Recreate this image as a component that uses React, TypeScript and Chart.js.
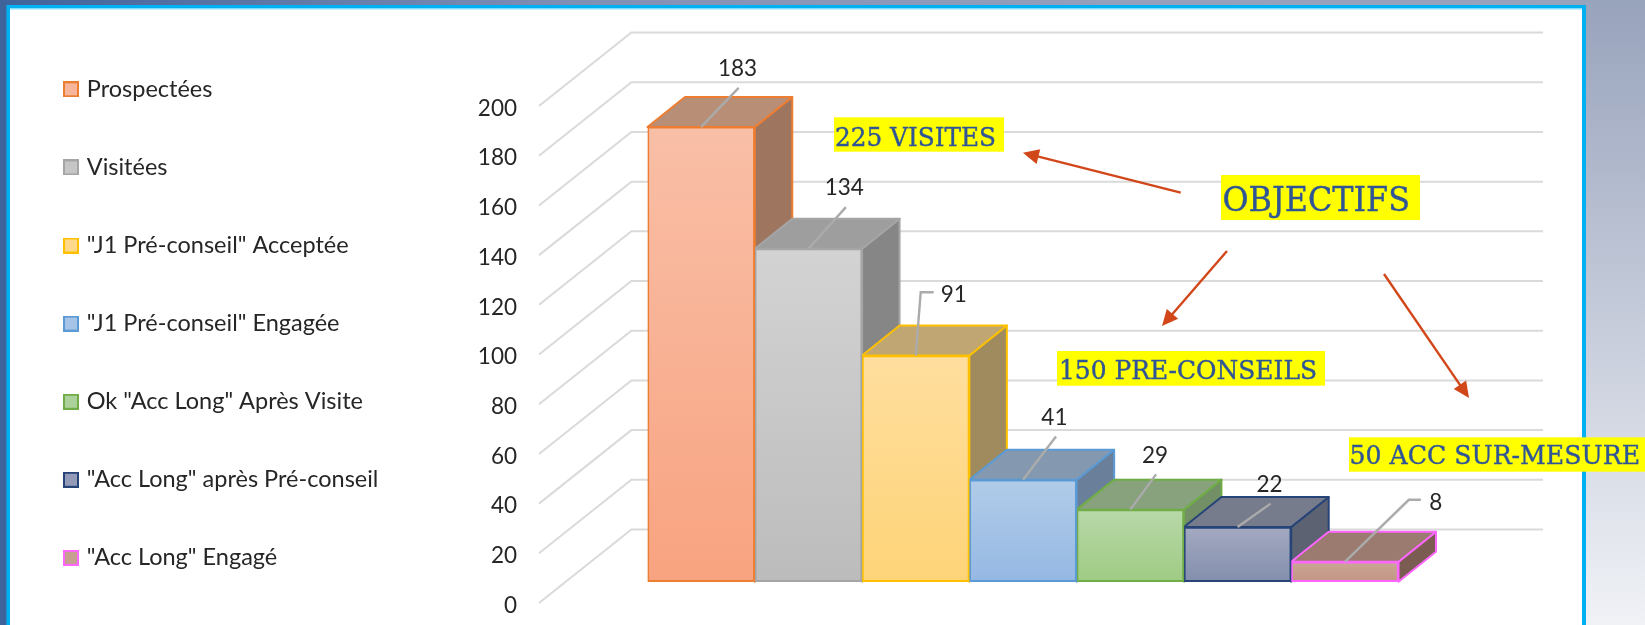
import React, { useEffect, useRef } from "react";
import { Chart, registerables } from "chart.js";

Chart.register(...registerables);

const seriesNames = [
  "Prospectées",
  "Visitées",
  '"J1 Pré-conseil" Acceptée',
  '"J1 Pré-conseil" Engagée',
  'Ok "Acc Long" Après Visite',
  '"Acc Long" après Pré-conseil',
  '"Acc Long" Engagé',
];
const seriesValues = [183, 134, 91, 41, 29, 22, 8];
const categories = [""];
const borderColors = ["#ED7D31", "#A5A5A5", "#FFC000", "#5B9BD5", "#70AD47", "#264478", "#FF66FF"];
const frontTop = ["#F9BFA7", "#D3D3D3", "#FFDE9E", "#B1CCE9", "#B8D8A9", "#A3A9C0", "#CBA697"];
const frontBottom = ["#F8A380", "#BCBCBC", "#FED478", "#95B8E3", "#9FCB83", "#838FAE", "#C29583"];
const topFace = ["#B98E77", "#9E9E9E", "#BFA672", "#8499B0", "#87A27C", "#777C8C", "#9B7B70"];
const sideFace = ["#9E7660", "#868686", "#A08B5E", "#6A7F99", "#728F65", "#5C6272", "#7B5C52"];
const swatchFill = ["#F7B59B", "#C6C6C6", "#FFD88C", "#A6C4E7", "#ADD19B", "#939BB8", "#C6A090"];

const leaders = [
  [[37.5, -39]],
  [[37.5, -41.6]],
  [[5, -63.3], [18, -63.3]],
  [[33, -43.3]],
  [[25.8, -35.3]],
  [[33, -23.4]],
  [[64, -62], [76, -62]],
];
const labelOffsets = [[36.4, -58], [35.8, -60.6], [38, -61], [31.4, -62.3], [24.7, -54.3], [32, -42.4], [91, -59.3]];

const notes = [
  { text: "225 VISITES", box: [834, 117.3, 170, 34.4], x: 835, w: 161, size: 26, base: 145.7 },
  { text: "OBJECTIFS", box: [1221, 175, 199, 45], x: 1222.5, w: 187.5, size: 34, base: 210.7 },
  { text: "150 PRE-CONSEILS", box: [1057, 351, 268, 34.7], x: 1059, w: 258, size: 26, base: 379 },
  { text: "50 ACC SUR-MESURE", box: [1349, 437.3, 296, 34.4], x: 1349.5, w: 290.5, size: 26, base: 464.3 },
];
const arrows = [
  [1180.7, 192.7, 1022.9, 152.7],
  [1227, 251, 1162, 326],
  [1384, 274, 1469, 398],
];

const WALL_FRONT_X = 539;
const WALL_BACK_X = 631.4;
const WALL_RIGHT_X = 1543;
const WALL_DY = 73.5;
const BAR_DX = 37.5;
const BAR_DY = 30;
const GRID = "#DADADA";
const INK = "#262626";
const FONT = "Lato";

function makeSwatch(i: number) {
  const cv = document.createElement("canvas");
  cv.width = 16;
  cv.height = 16;
  const c = cv.getContext("2d") as CanvasRenderingContext2D;
  c.fillStyle = borderColors[i];
  c.fillRect(0, 0, 16, 16);
  c.fillStyle = swatchFill[i];
  c.fillRect(2, 2, 12, 12);
  return cv;
}

const scene = {
  id: "scene",
  afterLayout(chart: any) {
    const l = chart.legend;
    l.left = 12.4;
    l.top = 22.95;
    l.bottom = 670;
    l.right = 500;
  },
  beforeDraw(chart: any) {
    const c = chart.ctx;
    c.save();
    const h = c.createLinearGradient(0, 0, 1645, 0);
    h.addColorStop(0, "#3F639B");
    h.addColorStop(0.35, "#8090B5");
    h.addColorStop(0.7, "#95A1BC");
    h.addColorStop(1, "#98A3BC");
    c.fillStyle = h;
    c.fillRect(0, 0, 1645, 6);
    c.fillStyle = "#3F639B";
    c.fillRect(0, 0, 7, 625);
    const v = c.createLinearGradient(0, 0, 0, 625);
    v.addColorStop(0, "#98A3BC");
    v.addColorStop(1, "#F0F2F6");
    c.fillStyle = v;
    c.fillRect(1586, 0, 59, 625);
    c.fillStyle = "#00B0F0";
    c.fillRect(6.4, 5, 1579.6, 620);
    c.fillStyle = "#80E0FF";
    c.fillRect(10, 8, 1572, 2);
    c.fillStyle = "#FFFFFF";
    c.fillRect(10, 9.5, 1572, 616);
    c.restore();
  },
  beforeDatasetsDraw(chart: any) {
    const c = chart.ctx;
    const y = chart.scales.y;
    c.save();
    c.strokeStyle = GRID;
    c.lineWidth = 2;
    for (const t of y.ticks) {
      if (t.value > 200) continue;
      const p = y.getPixelForValue(t.value);
      c.beginPath();
      c.moveTo(WALL_FRONT_X, p);
      c.lineTo(WALL_BACK_X, p - WALL_DY);
      c.lineTo(WALL_RIGHT_X, p - WALL_DY);
      c.stroke();
    }
    c.lineWidth = 2;
    c.lineJoin = "round";
    seriesValues.forEach((_, i) => {
      const b = chart.getDatasetMeta(i).data[0];
      const l = b.x - b.width / 2;
      const r = b.x + b.width / 2;
      c.strokeStyle = borderColors[i];
      c.fillStyle = sideFace[i];
      c.beginPath();
      c.moveTo(r, b.y);
      c.lineTo(r + BAR_DX, b.y - BAR_DY);
      c.lineTo(r + BAR_DX, b.base - BAR_DY);
      c.lineTo(r, b.base);
      c.closePath();
      c.fill();
      c.stroke();
      c.fillStyle = topFace[i];
      c.beginPath();
      c.moveTo(l, b.y);
      c.lineTo(l + BAR_DX, b.y - BAR_DY);
      c.lineTo(r + BAR_DX, b.y - BAR_DY);
      c.lineTo(r, b.y);
      c.closePath();
      c.fill();
      c.stroke();
    });
    c.restore();
  },
  afterDatasetsDraw(chart: any) {
    const c = chart.ctx;
    c.save();
    seriesValues.forEach((val, i) => {
      const b = chart.getDatasetMeta(i).data[0];
      c.strokeStyle = "#ABABAB";
      c.lineWidth = 2.4;
      c.beginPath();
      c.moveTo(b.x, b.y);
      for (const [dx, dy] of leaders[i]) c.lineTo(b.x + dx, b.y + dy);
      c.stroke();
      c.fillStyle = INK;
      c.font = `22.5px ${FONT}`;
      c.textAlign = "center";
      c.textBaseline = "middle";
      c.fillText(String(val), b.x + labelOffsets[i][0], b.y + labelOffsets[i][1]);
    });
    c.restore();
  },
  afterDraw(chart: any) {
    const c = chart.ctx;
    c.save();
    for (const [x0, y0, x1, y1] of arrows) {
      const a = Math.atan2(y1 - y0, x1 - x0);
      const len = Math.hypot(x1 - x0, y1 - y0);
      c.translate(x1, y1);
      c.rotate(a);
      c.strokeStyle = "#D2471A";
      c.fillStyle = "#D2471A";
      c.lineWidth = 2.4;
      c.beginPath();
      c.moveTo(-len, 0);
      c.lineTo(-12, 0);
      c.stroke();
      c.beginPath();
      c.moveTo(0, 0);
      c.lineTo(-16, -7.5);
      c.lineTo(-16, 7.5);
      c.closePath();
      c.fill();
      c.setTransform(1, 0, 0, 1, 0, 0);
    }
    for (const n of notes) {
      c.fillStyle = "#FFFF00";
      c.fillRect(n.box[0], n.box[1], n.box[2], n.box[3]);
      c.font = `${n.size}px "DejaVu Serif"`;
      c.textBaseline = "alphabetic";
      c.textAlign = "left";
      const natural = c.measureText(n.text).width;
      c.fillStyle = "#2F5597";
      c.strokeStyle = "#2F5597";
      c.lineWidth = 0.4;
      c.translate(n.x, n.base);
      c.scale(n.w / natural, 1);
      c.fillText(n.text, 0, 0);
      c.strokeText(n.text, 0, 0);
      c.setTransform(1, 0, 0, 1, 0, 0);
    }
    c.restore();
  },
};

export default function App() {
  const ref = useRef<HTMLCanvasElement | null>(null);
  useEffect(() => {
    if (!ref.current) return;
    const chart = new Chart(ref.current, {
      type: "bar",
      data: {
        labels: categories,
        datasets: seriesNames.map((name, i) => ({
          label: name,
          data: [seriesValues[i]],
          yAxisID: "yBar",
          borderColor: borderColors[i],
          borderWidth: 2,
          borderSkipped: false,
          barPercentage: 1,
          categoryPercentage: 1,
          backgroundColor: (ctx: any) => {
            const s = ctx.chart.scales.yBar;
            if (!s) return swatchFill[i];
            const top = s.getPixelForValue(seriesValues[i]);
            const g = ctx.chart.ctx.createLinearGradient(0, top, 0, s.getPixelForValue(0));
            g.addColorStop(0, frontTop[i]);
            g.addColorStop(1, frontBottom[i]);
            return g;
          },
        })),
      },
      options: {
        responsive: false,
        animation: false,
        devicePixelRatio: 1,
        events: [],
        layout: { padding: { left: 0, right: 246.5, top: 33, bottom: 22 } },
        scales: {
          x: { display: false },
          y: {
            position: "left",
            min: 0,
            max: 229.4,
            afterFit: (s: any) => {
              s.width = 647.5;
            },
            grid: { display: false, drawTicks: true, tickLength: 130.5 },
            border: { display: false },
            ticks: {
              stepSize: 20,
              autoSkip: false,
              includeBounds: false,
              padding: 0,
              labelOffset: 2.5,
              color: INK,
              font: { family: FONT, size: 22.5 },
              callback: (v: any) => (v <= 200 ? String(v) : ""),
            },
          },
          yBar: { display: false, min: -8.57, max: 220.8 },
        },
        plugins: {
          title: { display: false },
          tooltip: { enabled: false },
          legend: {
            position: "chartArea",
            align: "start",
            labels: {
              usePointStyle: true,
              boxWidth: 8,
              padding: 54.6,
              color: INK,
              font: { family: FONT, size: 23.5 },
              generateLabels: () =>
                seriesNames.map((text, i) => ({
                  text,
                  pointStyle: makeSwatch(i),
                  rotation: 0,
                  fillStyle: swatchFill[i],
                  strokeStyle: borderColors[i],
                  lineWidth: 0,
                  fontColor: INK,
                  datasetIndex: i,
                })),
            },
          },
        },
      },
      plugins: [scene],
    } as any);
    return () => chart.destroy();
  }, []);
  return (
    <div style={{ position: "fixed", left: 0, top: 0, width: 1645, height: 625, overflow: "hidden" }}>
      <canvas ref={ref} width={1645} height={625} style={{ display: "block" }} />
    </div>
  );
}
